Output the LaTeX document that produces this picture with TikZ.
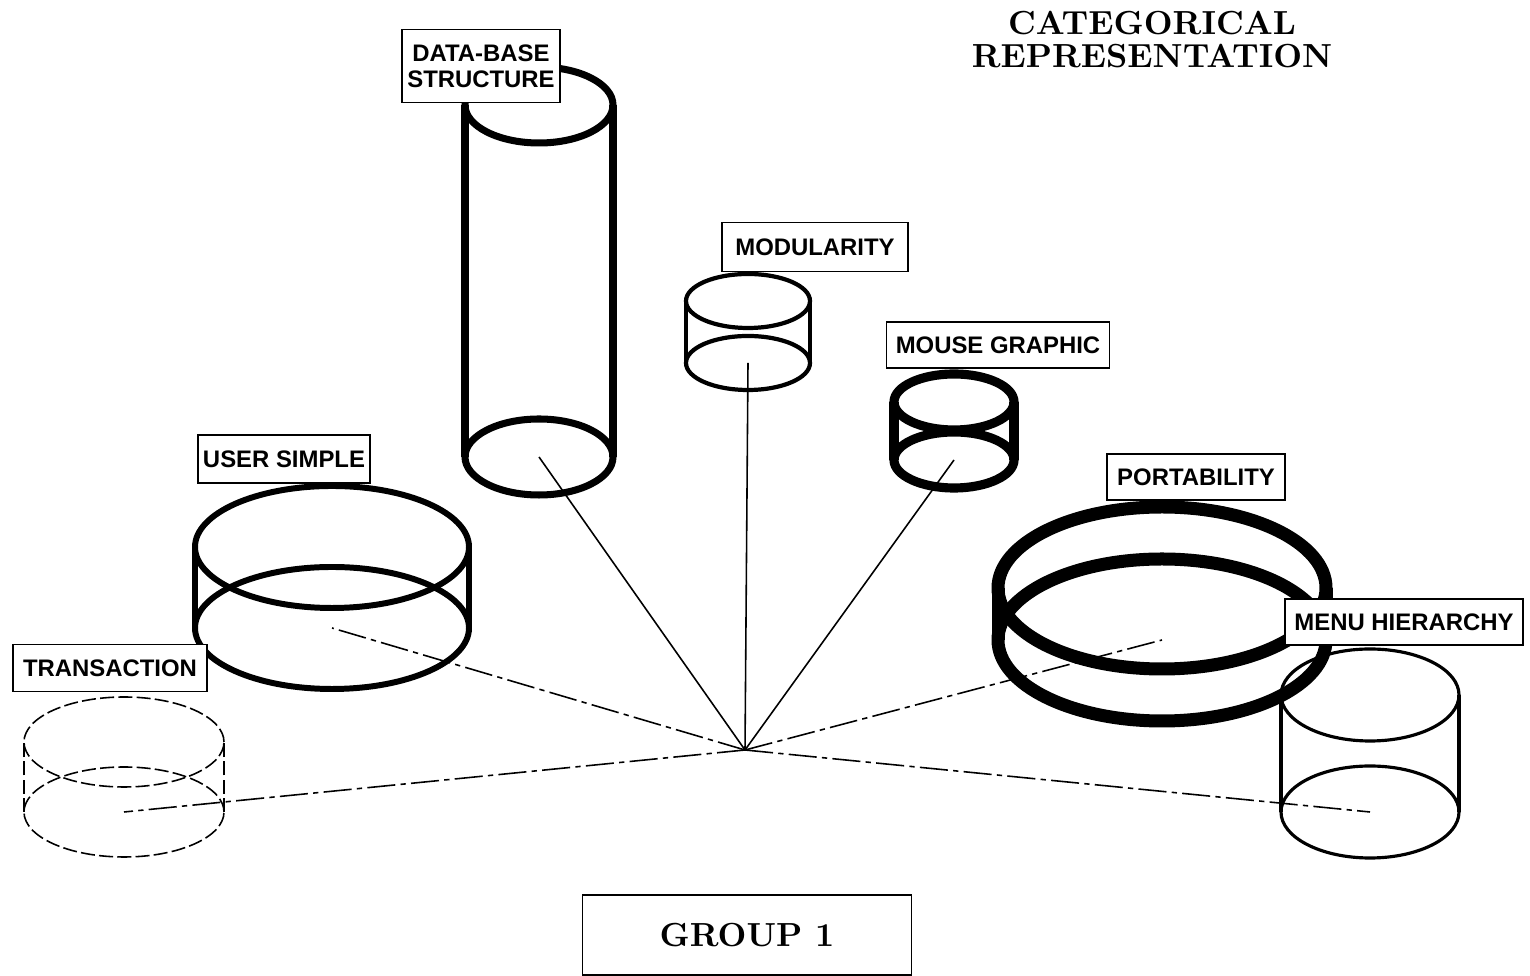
\documentclass[tikz,border=0pt]{standalone}
\usepackage{fontspec}
\setsansfont{Liberation Sans}
\usetikzlibrary{positioning}

% cylinder: name, x, y of bottom centre, x radius, y radius, height, style
\newcommand{\drawcyl}[7]{%
  \draw[#7] (#2,#3+#6) ellipse ({#4} and {#5});
  \draw[#7] (#2,#3) ellipse ({#4} and {#5});
  \draw[#7] (#2-#4,#3) -- (#2-#4,#3+#6) (#2+#4,#3) -- (#2+#4,#3+#6);
  \coordinate (#1) at (#2,#3);
}

\begin{document}
\begin{tikzpicture}[
    lbl/.style={draw, fill=white, line width=0.4pt, inner sep=0pt,
      minimum height=0.46cm, align=center,
      font=\sffamily\bfseries\fontsize{6.8}{7.4}\selectfont},
    hubline/.style={line width=0.45pt},
    sideline/.style={hubline, dash pattern=on 8pt off 1.5pt on 1.5pt off 1.5pt},
    transcyl/.style={line width=0.45pt, dash pattern=on 4pt off 1.2pt}]
   \useasboundingbox (0,0) rectangle (15.30,9.76);

   % cylinders
   \drawcyl{tr}{1.24}{1.64}{1.00}{0.45}{0.70}{transcyl}
   \drawcyl{us}{3.32}{3.48}{1.37}{0.61}{0.81}{line width=1.7pt}
   \drawcyl{db}{5.39}{5.19}{0.74}{0.38}{3.52}{line width=2pt}
   \drawcyl{mo}{7.48}{6.13}{0.62}{0.27}{0.62}{line width=1.2pt}
   \drawcyl{mg}{9.54}{5.16}{0.60}{0.28}{0.58}{line width=2.6pt}
   \drawcyl{mh}{13.70}{1.64}{0.89}{0.46}{1.17}{line width=0.9pt}
   \drawcyl{po}{11.62}{3.36}{1.64}{0.81}{0.52}{line width=3.7pt}

   % spokes
   \coordinate (hub) at (7.45,2.26);
   \draw[sideline] (hub) -- (tr);
   \draw[sideline] (hub) -- (us);
   \draw[hubline]  (hub) -- (db);
   \draw[hubline]  (hub) -- (mo);
   \draw[hubline]  (hub) -- (mg);
   \draw[sideline] (hub) -- (po);
   \draw[sideline] (hub) -- (mh);

   % labels
   \node[lbl, minimum width=1.94cm, minimum height=0.47cm] (trl) at (1.10,3.08) {TRANSACTION};
   \node[lbl, minimum width=1.72cm, minimum height=0.48cm] (usl) at (2.84,5.17) {USER SIMPLE};
   \node[lbl, minimum width=1.58cm, minimum height=0.73cm] (dbl) at (4.81,9.10) {DATA-BASE\\STRUCTURE};
   \node[lbl, minimum width=1.86cm, minimum height=0.49cm] (mol) at (8.15,7.29) {MODULARITY};
   \node[lbl, minimum width=2.23cm] (mgl) at (9.98,6.31) {MOUSE GRAPHIC};
   \node[lbl, minimum width=1.78cm] (pol) at (11.96,4.99) {PORTABILITY};
   \node[lbl, minimum width=2.38cm] (mhl) at (14.04,3.54) {MENU HIERARCHY};

   \node[draw, line width=0.4pt, minimum width=3.29cm, minimum height=0.80cm,
     font=\bfseries\fontsize{9.5}{9.4}\selectfont] (grp) at (7.47,0.41) {GROUP 1};
   \node[align=center, font=\bfseries\fontsize{9.5}{9.4}\selectfont] (title) at (11.52,9.36)
     {CATEGORICAL\\REPRESENTATION};
\end{tikzpicture}
\end{document}
